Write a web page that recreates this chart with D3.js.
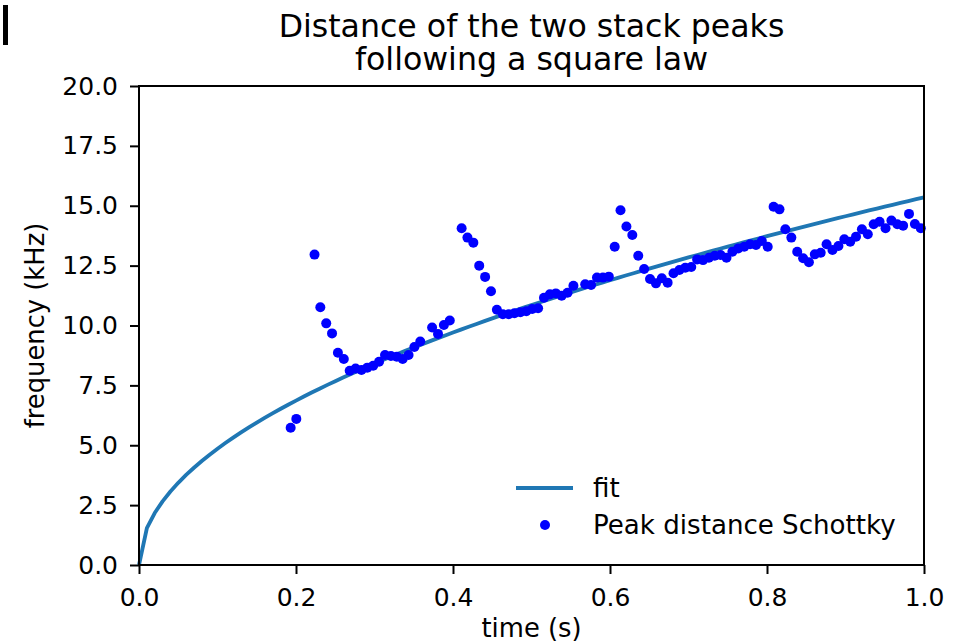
<!DOCTYPE html>
<html>
<head>
<meta charset="utf-8">
<script src="https://cdn.jsdelivr.net/npm/d3@7"></script>
<style>
  html, body { margin: 0; padding: 0; background: #fff; }
  svg { display: block; }
  text { font-family: "DejaVu Sans", sans-serif; fill: #000; }
</style>
</head>
<body>
<svg id="chart" width="968" height="643"></svg>
<script>
// Measured peak distance (time in s, frequency in kHz)
const peakTimes = [
  0.1932, 0.2004, 0.2236, 0.2310, 0.2385, 0.2459, 0.2534, 0.2609, 0.2684, 0.2759,
  0.2834, 0.2908, 0.2983, 0.3058, 0.3134, 0.3209, 0.3284, 0.3359, 0.3434, 0.3508,
  0.3583, 0.3734, 0.3809, 0.3884, 0.3959, 0.4110, 0.4184, 0.4259, 0.4334, 0.4409,
  0.4484, 0.4559, 0.4635, 0.4710, 0.4783, 0.4859, 0.4934, 0.5009, 0.5084, 0.5159,
  0.5234, 0.5310, 0.5384, 0.5459, 0.5534, 0.5684, 0.5759, 0.5834, 0.5910, 0.5985,
  0.6060, 0.6134, 0.6209, 0.6284, 0.6360, 0.6435, 0.6510, 0.6585, 0.6660, 0.6734,
  0.6809, 0.6884, 0.6959, 0.7035, 0.7110, 0.7185, 0.7260, 0.7334, 0.7409, 0.7484,
  0.7559, 0.7634, 0.7710, 0.7785, 0.7860, 0.7934, 0.8009, 0.8084, 0.8159, 0.8234,
  0.8310, 0.8385, 0.8460, 0.8534, 0.8609, 0.8684, 0.8759, 0.8834, 0.8910, 0.8985,
  0.9060, 0.9134, 0.9209, 0.9284, 0.9359, 0.9434, 0.9510, 0.9585, 0.9660, 0.9734,
  0.9809, 0.9884, 0.9959
];
const peakDistance = [
  5.73, 6.10, 12.96, 10.76, 10.09, 9.67, 8.86, 8.60, 8.11, 8.20,
  8.14, 8.24, 8.32, 8.49, 8.77, 8.73, 8.70, 8.60, 8.77, 9.10,
  9.33, 9.92, 9.65, 10.02, 10.21, 14.06, 13.67, 13.46, 12.50, 12.03,
  11.43, 10.66, 10.47, 10.47, 10.51, 10.55, 10.60, 10.69, 10.72, 11.16,
  11.30, 11.34, 11.24, 11.37, 11.66, 11.72, 11.69, 12.00, 12.00, 12.04,
  13.29, 14.81, 14.13, 13.78, 12.91, 12.36, 11.94, 11.76, 11.97, 11.79,
  12.18, 12.32, 12.41, 12.44, 12.76, 12.73, 12.83, 12.91, 12.94, 12.83,
  13.08, 13.22, 13.29, 13.39, 13.36, 13.53, 13.29, 14.96, 14.85, 14.02,
  13.67, 13.08, 12.81, 12.64, 12.97, 13.04, 13.39, 13.15, 13.32, 13.60,
  13.50, 13.71, 14.02, 13.81, 14.23, 14.33, 14.06, 14.38, 14.23, 14.17,
  14.66, 14.24, 14.06
];

// Square-law fit f = k * sqrt(t), evaluated on a 0.01 s grid
const fitCoeff = 15.35;
const fitTimes = d3.range(0, 101).map(i => i / 100);

const xTicks = [0.0, 0.2, 0.4, 0.6, 0.8, 1.0];
const yTicks = [0.0, 2.5, 5.0, 7.5, 10.0, 12.5, 15.0, 17.5, 20.0];

const titleLines = ["Distance of the two stack peaks", "following a square law"];
const xLabel = "time (s)";
const yLabel = "frequency (kHz)";
const legendLabels = ["fit", "Peak distance Schottky"];

const colors = { fit: "#1f77b4", points: "#0000ff" };

const plot = { left: 139, right: 924, top: 86, bottom: 565 };
const svg = d3.select("#chart");

const x = d3.scaleLinear().domain([0, 1]).range([plot.left, plot.right]);
const y = d3.scaleLinear().domain([0, 20]).range([plot.bottom, plot.top]);

// small marker in the corner
svg.append("rect").attr("x", 3).attr("y", 5).attr("width", 5).attr("height", 40).attr("fill", "#000");

// fit curve
const fitData = fitTimes.map(t => [t, fitCoeff * Math.sqrt(t)]);
svg.append("path")
  .datum(fitData)
  .attr("fill", "none")
  .attr("stroke", colors.fit)
  .attr("stroke-width", 3.8)
  .attr("stroke-linejoin", "round")
  .attr("d", d3.line().x(d => x(d[0])).y(d => y(d[1])));

// measured points
const pts = peakTimes.map((t, i) => [t, peakDistance[i]]);
svg.append("g").selectAll("circle")
  .data(pts)
  .join("circle")
  .attr("cx", d => x(d[0]))
  .attr("cy", d => y(d[1]))
  .attr("r", 5)
  .attr("fill", colors.points);

// axes
const xAxis = svg.append("g")
  .attr("transform", `translate(0,${plot.bottom})`)
  .call(d3.axisBottom(x).tickValues(xTicks).tickFormat(d3.format(".1f"))
    .tickSize(9).tickSizeOuter(0).tickPadding(14));
const yAxis = svg.append("g")
  .attr("transform", `translate(${plot.left},0)`)
  .call(d3.axisLeft(y).tickValues(yTicks).tickFormat(d3.format(".1f"))
    .tickSize(9).tickSizeOuter(0).tickPadding(12));

[xAxis, yAxis].forEach(g => {
  g.select(".domain").remove();
  g.selectAll(".tick line").attr("stroke", "#000").attr("stroke-width", 2);
  g.selectAll(".tick text").attr("fill", "#000")
    .style("font-family", "DejaVu Sans").style("font-size", "25px");
});

// frame
svg.append("rect")
  .attr("x", plot.left).attr("y", plot.top)
  .attr("width", plot.right - plot.left).attr("height", plot.bottom - plot.top)
  .attr("fill", "none").attr("stroke", "#000").attr("stroke-width", 2);

// title
const cx = (plot.left + plot.right) / 2;
svg.append("text").attr("x", cx).attr("y", 37).attr("text-anchor", "middle")
  .style("font-size", "31.6px").text(titleLines[0]);
svg.append("text").attr("x", cx).attr("y", 70).attr("text-anchor", "middle")
  .style("font-size", "31.6px").text(titleLines[1]);

// axis labels
svg.append("text").attr("x", cx).attr("y", 637).attr("text-anchor", "middle")
  .style("font-size", "25.8px").text(xLabel);
svg.append("text")
  .attr("transform", `translate(44,${(plot.top + plot.bottom) / 2}) rotate(-90)`)
  .attr("text-anchor", "middle")
  .style("font-size", "25.8px").text(yLabel);

// legend
const lg = svg.append("g");
lg.append("line").attr("x1", 516).attr("x2", 573).attr("y1", 488).attr("y2", 488)
  .attr("stroke", colors.fit).attr("stroke-width", 3.8);
lg.append("text").attr("x", 593).attr("y", 497).style("font-size", "26.1px").text(legendLabels[0]);
lg.append("circle").attr("cx", 545).attr("cy", 525).attr("r", 5).attr("fill", colors.points);
lg.append("text").attr("x", 593).attr("y", 534).style("font-size", "26.1px").text(legendLabels[1]);
</script>
</body>
</html>
